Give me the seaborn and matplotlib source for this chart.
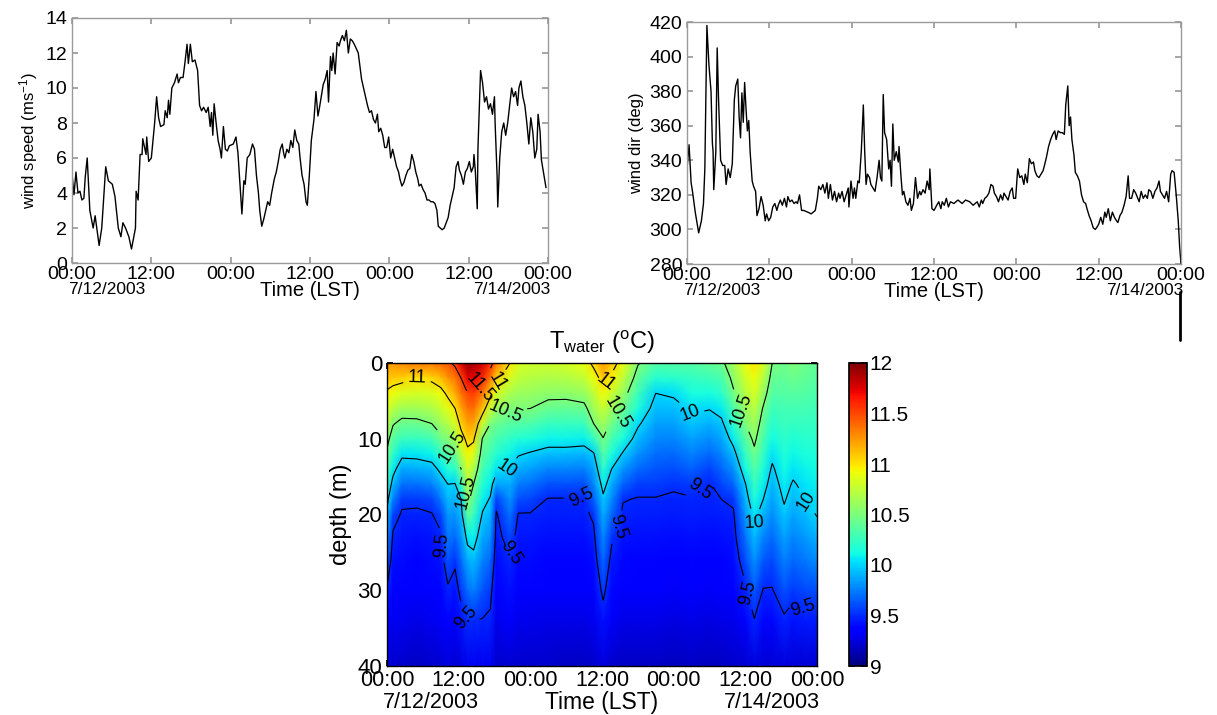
import numpy as np
import pandas as pd
import seaborn as sns
import matplotlib.pyplot as plt
from matplotlib.lines import Line2D

# wind speed (m/s), hours after 00:00 7/12/2003
ws_hours = [0.0, 0.3, 0.6, 0.9, 1.2, 1.5, 1.8, 2.0, 2.3, 2.7,
            3.2, 3.5, 4.1, 4.5, 4.6, 5.1, 5.5, 6.1, 6.5, 7.0,
            7.4, 7.7, 8.1, 8.6, 9.0, 9.6, 9.7, 10.0, 10.3, 10.6,
            10.7, 11.2, 11.3, 11.6, 12.0, 12.5, 12.8, 13.1, 13.4, 13.9,
            14.1, 14.4, 14.6, 14.8, 15.1, 15.5, 15.9, 16.1, 16.4, 16.8,
            17.1, 17.4, 17.6, 17.9, 18.2, 18.6, 19.0, 19.3, 19.6, 19.9,
            20.3, 20.6, 20.9, 21.1, 21.3, 21.5, 21.8, 22.1, 22.4, 22.6,
            22.9, 23.2, 23.5, 23.8, 24.4, 24.8, 25.1, 25.4, 25.7, 26.0,
            26.2, 26.5, 26.9, 27.3, 27.6, 27.9, 28.2, 28.4, 28.7, 29.0,
            29.3, 29.6, 29.9, 30.2, 30.6, 30.9, 31.2, 31.5, 31.8, 32.0,
            32.2, 32.5, 32.8, 33.1, 33.4, 33.7, 34.0, 34.3, 34.5, 34.8,
            35.1, 35.4, 35.6, 35.9, 36.2, 36.6, 36.9, 37.2, 37.4, 37.7,
            38.0, 38.3, 38.6, 38.8, 39.1, 39.3, 39.5, 39.8, 40.1, 40.4,
            40.6, 40.9, 41.2, 41.5, 41.8, 42.1, 42.4, 42.7, 43.3, 43.5,
            43.8, 44.1, 44.4, 44.7, 45.0, 45.3, 45.6, 45.9, 46.2, 46.4,
            46.7, 47.0, 47.3, 47.6, 47.9, 48.2, 48.5, 48.8, 49.1, 49.4,
            49.6, 49.9, 50.2, 50.5, 50.8, 51.1, 51.4, 51.7, 52.0, 52.3,
            52.5, 52.8, 53.1, 53.4, 53.7, 54.0, 54.3, 54.6, 54.9, 55.2,
            55.4, 55.7, 56.0, 56.3, 56.6, 56.9, 57.2, 57.5, 57.8, 58.1,
            58.4, 58.6, 58.9, 59.2, 59.5, 59.8, 60.1, 60.4, 60.7, 60.8,
            61.0, 61.3, 61.4, 61.7, 61.8, 62.1, 62.4, 62.7, 63.0, 63.3,
            63.6, 63.9, 64.0, 64.3, 64.4, 64.7, 65.0, 65.3, 65.6, 65.9,
            66.2, 66.5, 66.8, 67.1, 67.4, 67.6, 67.9, 68.2, 68.5, 68.8,
            69.1, 69.4, 69.7, 70.0, 70.3, 70.5, 70.8, 71.0, 71.4, 71.7]
ws_vals = [5.1, 3.9, 5.2, 4.0, 4.1, 3.6, 3.7, 4.9, 6.0, 3.0,
           2.0, 2.7, 1.0, 2.0, 2.6, 5.5, 4.7, 4.5, 3.8, 2.0,
           1.5, 2.3, 2.0, 1.5, 0.8, 2.0, 4.1, 3.6, 6.2, 6.2,
           7.1, 6.2, 7.2, 5.8, 6.0, 8.0, 9.5, 8.3, 7.8, 7.9,
           8.7, 8.3, 9.3, 8.5, 10.0, 10.3, 10.8, 10.3, 10.6, 10.6,
           11.5, 12.5, 11.4, 12.5, 11.5, 11.6, 11.0, 9.0, 8.7, 8.9,
           8.6, 8.9, 7.8, 8.6, 7.3, 9.1, 8.0, 7.0, 6.5, 6.0,
           7.8, 6.5, 6.4, 6.7, 6.8, 7.2, 6.3, 4.5, 2.8, 4.7,
           4.5, 6.0, 6.2, 6.8, 6.5, 5.0, 4.0, 3.0, 2.1, 2.5,
           3.0, 3.5, 3.3, 4.0, 4.8, 5.2, 5.8, 6.5, 6.8, 6.3,
           6.0, 6.5, 6.3, 7.0, 6.6, 7.6, 7.0, 6.8, 6.0, 5.0,
           4.5, 3.5, 3.3, 5.0, 7.0, 8.2, 9.8, 8.4, 8.8, 9.5,
           10.2, 10.5, 11.0, 9.2, 11.8, 11.0, 12.0, 10.8, 12.6, 12.4,
           12.7, 13.0, 12.7, 13.3, 12.0, 12.8, 12.7, 12.5, 12.0, 11.4,
           10.5, 10.0, 9.5, 9.0, 8.6, 8.7, 8.2, 8.0, 8.5, 7.5,
           7.7, 7.3, 6.6, 6.6, 7.2, 6.0, 6.5, 6.0, 5.5, 5.2,
           4.8, 4.4, 4.6, 5.0, 5.3, 5.4, 6.2, 5.8, 5.2, 4.8,
           4.4, 4.5, 4.2, 4.0, 3.6, 3.6, 3.5, 3.5, 3.4, 3.0,
           2.1, 2.0, 1.9, 2.0, 2.3, 2.6, 3.3, 3.8, 4.3, 5.5,
           5.8, 5.3, 5.0, 4.5, 5.2, 5.4, 5.8, 5.2, 5.5, 6.2,
           5.3, 3.1, 6.5, 10.0, 11.0, 10.3, 9.2, 9.5, 8.8, 9.1,
           8.5, 9.5, 8.0, 5.0, 3.2, 6.0, 7.5, 8.0, 7.3, 8.0,
           9.0, 10.0, 9.5, 9.8, 9.0, 10.0, 10.4, 9.5, 9.0, 8.0,
           6.8, 8.3, 7.5, 6.0, 6.5, 8.5, 7.5, 5.9, 5.0, 4.3]

# wind direction (deg)
wd_hours = [0.0, 0.3, 0.6, 0.8, 1.2, 1.7, 2.1, 2.4, 2.6, 2.9,
            3.2, 3.5, 3.7, 3.8, 3.9, 4.2, 4.4, 4.6, 4.9, 5.2,
            5.5, 5.7, 6.0, 6.3, 6.6, 6.9, 7.1, 7.4, 7.6, 7.8,
            8.0, 8.2, 8.4, 8.6, 8.8, 9.0, 9.2, 9.5, 9.7, 10.0,
            10.2, 10.5, 10.8, 11.1, 11.4, 11.6, 11.9, 12.2, 12.5, 12.8,
            13.1, 13.3, 13.6, 13.9, 14.2, 14.5, 14.7, 15.0, 15.3, 15.6,
            15.9, 16.1, 16.4, 16.7, 17.0, 17.6, 18.1, 18.7, 19.0, 19.2,
            19.5, 19.8, 20.1, 20.4, 20.6, 20.9, 21.2, 21.5, 21.8, 22.1,
            22.3, 22.6, 22.9, 23.2, 23.5, 23.6, 23.9, 24.2, 24.4, 24.6,
            24.9, 25.1, 25.4, 25.7, 25.9, 26.1, 26.3, 26.6, 26.8, 27.1,
            27.4, 27.7, 28.0, 28.2, 28.4, 28.6, 28.8, 29.1, 29.4, 29.6,
            29.8, 30.0, 30.2, 30.5, 30.8, 30.9, 31.2, 31.4, 31.6, 31.9,
            32.2, 32.5, 32.7, 33.0, 33.3, 33.6, 33.9, 34.1, 34.4, 34.7,
            35.0, 35.3, 35.4, 35.7, 36.0, 36.4, 36.7, 37.0, 37.2, 37.5,
            37.8, 38.1, 38.4, 38.9, 39.5, 40.1, 40.6, 41.2, 41.7, 42.3,
            42.6, 42.9, 43.1, 43.4, 43.7, 44.0, 44.3, 44.6, 44.8, 45.1,
            45.4, 45.7, 46.0, 46.2, 46.5, 46.8, 47.1, 47.4, 47.6, 47.9,
            48.2, 48.5, 48.8, 49.1, 49.3, 49.6, 49.9, 50.2, 50.5, 50.7,
            51.0, 51.3, 51.6, 51.9, 52.1, 52.4, 52.7, 53.0, 53.3, 53.6,
            53.8, 54.1, 54.4, 54.7, 55.0, 55.2, 55.5, 55.7, 55.9, 56.1,
            56.4, 56.6, 56.9, 57.2, 57.5, 57.8, 58.1, 58.3, 58.6, 58.9,
            59.2, 59.5, 59.7, 60.0, 60.3, 60.6, 60.9, 61.1, 61.4, 61.7,
            62.0, 62.3, 62.6, 62.8, 63.1, 63.4, 63.7, 64.0, 64.3, 64.5,
            64.8, 65.1, 65.4, 65.6, 65.9, 66.2, 66.5, 66.8, 67.1, 67.3,
            67.6, 67.9, 68.2, 68.5, 68.8, 69.0, 69.3, 69.6, 69.9, 70.2,
            70.5, 70.7, 71.0, 71.3, 71.6, 71.8, 72.0]
wd_vals = [335, 349, 327, 322, 310, 298, 305, 315, 335, 418,
           395, 380, 350, 345, 323, 345, 405, 375, 340, 337,
           337, 326, 335, 330, 338, 375, 383, 387, 365, 353,
           379, 362, 385, 370, 357, 363, 345, 328, 325, 322,
           308, 312, 319, 314, 305, 309, 305, 307, 313, 315,
           311, 314, 317, 314, 318, 313, 319, 316, 317, 315,
           316, 315, 320, 311, 311, 310, 309, 311, 318, 325,
           323, 326, 321, 327, 318, 326, 317, 322, 316, 321,
           318, 322, 316, 320, 324, 313, 328, 318, 324, 318,
           328, 327, 345, 372, 345, 326, 332, 330, 326, 324,
           322, 330, 340, 330, 328, 378, 356, 352, 335, 340,
           325, 361, 340, 345, 339, 348, 330, 320, 322, 316,
           314, 318, 311, 315, 330, 318, 322, 320, 323, 321,
           328, 323, 335, 312, 311, 314, 316, 312, 316, 314,
           318, 313, 316, 315, 317, 315, 317, 316, 314, 316,
           313, 317, 315, 318, 319, 321, 326, 325, 321, 319,
           316, 320, 317, 321, 319, 317, 322, 324, 318, 318,
           335, 330, 331, 326, 332, 327, 341, 338, 339, 334,
           331, 330, 332, 334, 337, 342, 348, 352, 355, 357,
           352, 357, 356, 356, 355, 372, 383, 360, 365, 352,
           343, 333, 331, 328, 320, 316, 315, 312, 308, 305,
           301, 300, 301, 303, 307, 303, 310, 307, 312, 305,
           310, 307, 305, 304, 308, 310, 314, 319, 331, 318,
           318, 323, 321, 319, 316, 322, 318, 320, 318, 323,
           322, 318, 322, 324, 328, 322, 320, 318, 322, 316,
           332, 334, 333, 320, 305, 290, 280]

# water temperature profiles (deg C), one list per time column
t_cols = [0, 1, 2.5, 5, 7.5, 9, 10.2, 11.4, 12.4, 13.5,
          14.5, 16, 17.3, 18.3, 20.6, 22, 24, 27, 30, 33,
          34.6, 36.2, 37.6, 39.5, 42, 45, 48, 51, 54, 56,
          58, 60, 61.5, 63, 64.5, 66.5, 68, 70, 72]
depths = [0, 2, 4, 6, 8, 10, 12, 14, 16, 18, 20, 23, 26, 30, 34, 40]
temp_profiles = [
    [11.25, 11.10, 10.97, 10.85, 10.72, 10.58, 10.46, 10.35, 10.20, 10.07, 9.95, 9.80, 9.65, 9.48, 9.38, 9.25],
    [11.25, 11.08, 10.92, 10.72, 10.52, 10.37, 10.22, 10.07, 9.92, 9.75, 9.58, 9.47, 9.42, 9.37, 9.30, 9.20],
    [11.30, 11.07, 10.85, 10.63, 10.43, 10.26, 10.05, 9.87, 9.71, 9.54, 9.48, 9.44, 9.40, 9.35, 9.30, 9.20],
    [11.35, 11.00, 10.82, 10.63, 10.44, 10.25, 10.06, 9.88, 9.71, 9.54, 9.47, 9.42, 9.38, 9.33, 9.27, 9.18],
    [11.35, 11.05, 10.85, 10.68, 10.50, 10.30, 10.10, 9.92, 9.75, 9.58, 9.49, 9.44, 9.40, 9.35, 9.30, 9.20],
    [11.40, 11.13, 10.92, 10.77, 10.62, 10.45, 10.25, 10.05, 9.89, 9.73, 9.58, 9.47, 9.43, 9.38, 9.32, 9.22],
    [11.45, 11.25, 11.05, 10.88, 10.70, 10.53, 10.36, 10.18, 10.00, 9.92, 9.83, 9.73, 9.62, 9.47, 9.38, 9.25],
    [11.55, 11.35, 11.18, 11.00, 10.82, 10.64, 10.44, 10.20, 9.99, 9.90, 9.82, 9.68, 9.53, 9.43, 9.35, 9.22],
    [11.75, 11.50, 11.36, 11.21, 11.07, 10.90, 10.70, 10.50, 10.25, 10.00, 9.92, 9.81, 9.70, 9.55, 9.43, 9.25],
    [11.95, 11.72, 11.50, 11.36, 11.21, 11.07, 10.94, 10.81, 10.69, 10.56, 10.39, 10.06, 9.89, 9.70, 9.51, 9.30],
    [11.90, 11.72, 11.54, 11.38, 11.21, 11.04, 10.86, 10.68, 10.50, 10.38, 10.26, 10.09, 9.93, 9.75, 9.50, 9.30],
    [11.80, 11.60, 11.35, 11.12, 10.80, 10.48, 10.38, 10.28, 10.18, 10.08, 9.98, 9.87, 9.77, 9.63, 9.49, 9.30],
    [11.60, 11.36, 11.07, 10.79, 10.50, 10.39, 10.29, 10.18, 10.08, 9.98, 9.91, 9.80, 9.69, 9.55, 9.47, 9.30],
    [11.35, 11.07, 10.83, 10.61, 10.44, 10.31, 10.19, 10.06, 9.86, 9.57, 9.48, 9.44, 9.40, 9.35, 9.29, 9.20],
    [11.00, 10.83, 10.67, 10.50, 10.37, 10.23, 10.10, 9.98, 9.89, 9.80, 9.71, 9.58, 9.49, 9.42, 9.34, 9.22],
    [10.85, 10.74, 10.62, 10.51, 10.35, 10.18, 10.02, 9.88, 9.74, 9.60, 9.49, 9.44, 9.40, 9.35, 9.29, 9.20],
    [10.80, 10.70, 10.60, 10.50, 10.33, 10.15, 9.98, 9.85, 9.71, 9.58, 9.49, 9.44, 9.40, 9.35, 9.29, 9.20],
    [10.80, 10.68, 10.56, 10.42, 10.25, 10.09, 9.93, 9.77, 9.62, 9.49, 9.46, 9.42, 9.38, 9.34, 9.28, 9.20],
    [10.82, 10.69, 10.56, 10.41, 10.25, 10.09, 9.93, 9.77, 9.61, 9.49, 9.46, 9.42, 9.38, 9.33, 9.27, 9.18],
    [10.90, 10.75, 10.60, 10.44, 10.26, 10.08, 9.91, 9.75, 9.60, 9.49, 9.46, 9.42, 9.38, 9.33, 9.27, 9.18],
    [11.05, 10.90, 10.74, 10.63, 10.50, 10.23, 9.98, 9.86, 9.77, 9.65, 9.53, 9.46, 9.41, 9.36, 9.30, 9.20],
    [11.25, 11.08, 10.93, 10.78, 10.63, 10.49, 10.35, 10.21, 10.07, 9.96, 9.89, 9.78, 9.68, 9.54, 9.42, 9.25],
    [11.10, 10.96, 10.79, 10.62, 10.46, 10.31, 10.15, 10.00, 9.89, 9.79, 9.68, 9.53, 9.45, 9.39, 9.32, 9.20],
    [10.90, 10.75, 10.60, 10.46, 10.30, 10.14, 9.98, 9.81, 9.67, 9.51, 9.47, 9.43, 9.39, 9.34, 9.28, 9.18],
    [10.52, 10.40, 10.27, 10.15, 10.03, 9.92, 9.80, 9.68, 9.56, 9.49, 9.46, 9.42, 9.38, 9.34, 9.28, 9.18],
    [10.35, 10.18, 10.00, 9.93, 9.85, 9.78, 9.70, 9.63, 9.56, 9.49, 9.46, 9.42, 9.38, 9.33, 9.27, 9.18],
    [10.35, 10.20, 10.03, 9.93, 9.85, 9.77, 9.68, 9.60, 9.52, 9.48, 9.45, 9.41, 9.37, 9.32, 9.26, 9.17],
    [10.35, 10.24, 10.14, 10.03, 9.95, 9.85, 9.76, 9.66, 9.55, 9.49, 9.46, 9.42, 9.38, 9.33, 9.27, 9.18],
    [10.40, 10.27, 10.14, 10.01, 9.90, 9.79, 9.68, 9.57, 9.49, 9.47, 9.45, 9.41, 9.37, 9.32, 9.26, 9.17],
    [10.45, 10.32, 10.20, 10.07, 9.96, 9.86, 9.77, 9.67, 9.58, 9.50, 9.46, 9.42, 9.38, 9.33, 9.27, 9.18],
    [10.65, 10.56, 10.47, 10.33, 10.20, 10.07, 9.93, 9.80, 9.67, 9.53, 9.48, 9.44, 9.40, 9.35, 9.29, 9.20],
    [10.90, 10.80, 10.70, 10.60, 10.50, 10.37, 10.24, 10.12, 9.99, 9.91, 9.83, 9.71, 9.60, 9.47, 9.37, 9.22],
    [11.00, 10.91, 10.82, 10.73, 10.64, 10.55, 10.45, 10.35, 10.25, 10.15, 10.05, 9.92, 9.80, 9.64, 9.49, 9.25],
    [10.85, 10.72, 10.60, 10.48, 10.40, 10.32, 10.24, 10.16, 10.08, 10.00, 9.91, 9.77, 9.64, 9.49, 9.39, 9.23],
    [10.50, 10.42, 10.35, 10.27, 10.20, 10.12, 10.05, 9.97, 9.91, 9.85, 9.79, 9.69, 9.59, 9.49, 9.39, 9.23],
    [10.45, 10.40, 10.35, 10.30, 10.26, 10.21, 10.17, 10.12, 10.07, 10.02, 9.96, 9.85, 9.75, 9.61, 9.47, 9.25],
    [10.50, 10.43, 10.37, 10.30, 10.24, 10.17, 10.11, 10.05, 9.98, 9.92, 9.86, 9.77, 9.68, 9.55, 9.43, 9.23],
    [10.45, 10.40, 10.35, 10.30, 10.25, 10.20, 10.15, 10.10, 10.05, 10.00, 9.93, 9.83, 9.73, 9.59, 9.45, 9.23],
    [10.40, 10.36, 10.32, 10.28, 10.24, 10.20, 10.16, 10.12, 10.08, 10.04, 10.01, 9.90, 9.79, 9.60, 9.45, 9.23],
]
iso_levels = [9.5, 10, 10.5, 11, 11.5]
cbar_ticks = [9, 9.5, 10, 10.5, 11, 11.5, 12]

tick_hours = [0, 12, 24, 36, 48, 60, 72]
tick_labels = ["00:00", "12:00", "00:00", "12:00", "00:00", "12:00", "00:00"]

sns.set_theme(style="ticks")
plt.rcParams["font.family"] = ["Liberation Sans", "DejaVu Sans"]
plt.rcParams["mathtext.fontset"] = "custom"
plt.rcParams["mathtext.rm"] = "Liberation Sans"
plt.rcParams["mathtext.it"] = "Liberation Sans:italic"
for key in ["text.color", "axes.labelcolor", "xtick.labelcolor", "ytick.labelcolor"]:
    plt.rcParams[key] = "black"

W, H = 1217, 715
fig = plt.figure(figsize=(W / 100, H / 100), dpi=100)
ax1 = fig.add_axes([72 / W, 1 - 263 / H, 476 / W, 245 / H])
ax2 = fig.add_axes([687 / W, 1 - 264 / H, 494 / W, 242 / H])
ax3 = fig.add_axes([387 / W, 1 - 666 / H, 430 / W, 303 / H])
cax = fig.add_axes([849 / W, 1 - 666 / H, 18 / W, 303 / H])


def time_axis(ax, tsize, dsize, lsize, pad, off):
    ax.set_xlim(0, 72)
    ax.set_xticks(tick_hours)
    ax.set_xticklabels(tick_labels, fontsize=tsize, color="black")
    ax.tick_params(axis="x", pad=pad)
    ax.set_xlabel("")
    kw = dict(xycoords="axes fraction", textcoords="offset points", va="top", color="black")
    ax.annotate("7/12/2003", xy=(0, 0), xytext=(-3, off), ha="left", fontsize=dsize, **kw)
    ax.annotate("Time (LST)", xy=(0.5, 0), xytext=(0, off + 1), ha="center", fontsize=lsize, **kw)
    ax.annotate("7/14/2003", xy=(1, 0), xytext=(2, off), ha="right", fontsize=dsize, **kw)


# wind speed
df_ws = pd.DataFrame({"hour": ws_hours, "speed": ws_vals})
sns.lineplot(data=df_ws, x="hour", y="speed", ax=ax1, color="black", linewidth=1.0)
ax1.set_ylim(0, 14)
ax1.set_yticks(range(0, 15, 2))
ax1.set_ylabel("wind speed (ms$^{-1}$)", fontsize=12, color="black")
time_axis(ax1, 14, 12.5, 14.5, 2, -14)

# wind direction
df_wd = pd.DataFrame({"hour": wd_hours, "dir": wd_vals})
sns.lineplot(data=df_wd, x="hour", y="dir", ax=ax2, color="black", linewidth=1.0)
ax2.set_ylim(280, 420)
ax2.set_yticks(range(280, 421, 20))
ax2.set_ylabel("wind dir (deg)", fontsize=12, color="black")
time_axis(ax2, 14, 12.5, 14.5, 2, -14)

for ax in (ax1, ax2):
    ax.tick_params(direction="in", top=True, right=True, length=4, color="#9a9a9a")
    ax.tick_params(axis="y", labelsize=14, labelcolor="black")
    for s in ax.spines.values():
        s.set_color("#9a9a9a")
        s.set_linewidth(1.0)

# water temperature section
T = np.array(temp_profiles).T
mesh = ax3.pcolormesh(t_cols, depths, T, shading="gouraud", cmap="jet", vmin=9, vmax=12)
cs = ax3.contour(t_cols, depths, T, levels=iso_levels, colors="black", linewidths=0.8)
label_pos = [(5, 2), (15.3, 3), (18.2, 2.2), (36.4, 2.4),
             (11, 11), (20.7, 7.3), (38.5, 6.5), (60.5, 6),
             (12.9, 17), (19.8, 13.7), (51, 6.4), (62, 22.4), (70.6, 18),
             (10, 24), (13.8, 33.5), (20.7, 25), (32.5, 17.5), (37.8, 21.5),
             (51.4, 15.7), (60.4, 30.3), (69.6, 32.5)]
ax3.clabel(cs, fmt="%g", fontsize=13, inline=True, manual=label_pos)
ax3.set_ylim(40, 0)
ax3.set_yticks([0, 10, 20, 30, 40])
ax3.set_ylabel("depth (m)", fontsize=17, color="black")
ax3.set_title("T$_{\\mathrm{water}}$ ($^{\\mathrm{o}}$C)", fontsize=17, pad=10, color="black")
time_axis(ax3, 15.5, 15.5, 16.5, 3, -19)
ax3.tick_params(direction="in", top=True, right=True, length=4, color="black")
ax3.tick_params(axis="y", labelsize=16, labelcolor="black")
for s in ax3.spines.values():
    s.set_color("black")
    s.set_linewidth(1.0)

cb = fig.colorbar(mesh, cax=cax, ticks=cbar_ticks)
cb.ax.set_yticklabels([f"{v:g}" for v in cbar_ticks])
cax.tick_params(direction="in", left=True, right=True, length=4, labelsize=15, pad=2,
                color="black", labelcolor="black")
cb.outline.set_edgecolor("black")

# stray vertical mark below the wind direction panel
fig.add_artist(Line2D([1180 / W, 1180 / W], [1 - 292 / H, 1 - 340 / H], color="black", linewidth=2))

fig.savefig("out.png", dpi=100)
